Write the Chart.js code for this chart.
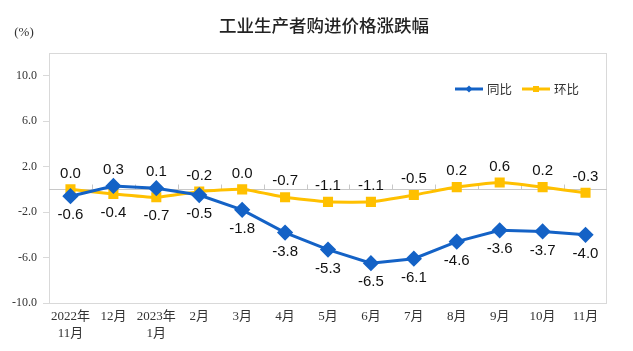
<!DOCTYPE html>
<html>
<head>
<meta charset="utf-8">
<script src="https://cdn.jsdelivr.net/npm/chart.js@4"></script>
<style>
  html, body { margin: 0; padding: 0; background: #fff; }
  #wrap { width: 633px; height: 351px; position: relative; }
</style>
</head>
<body>
<div id="wrap"><canvas id="ppiChart"></canvas></div>
<script>
// categories and series
const months = [['2022年', '11月'], '12月', ['2023年', '1月'], '2月', '3月', '4月', '5月', '6月', '7月', '8月', '9月', '10月', '11月'];
const yoyValues = [-0.6, 0.3, 0.1, -0.5, -1.8, -3.8, -5.3, -6.5, -6.1, -4.6, -3.6, -3.7, -4.0];
const momValues = [0.0, -0.4, -0.7, -0.2, 0.0, -0.7, -1.1, -1.1, -0.5, 0.2, 0.6, 0.2, -0.3];
const yTickValues = [-10, -6, -2, 2, 6, 10];
const seriesNames = ['同比', '环比'];

const BLUE = '#1462C6';
const GOLD = '#FFC000';
const GRID = '#d9d9d9';
const SERIF = '"Liberation Serif", "Times New Roman", "Noto Sans CJK SC", serif';
const SANS = '"Liberation Sans", Arial, "Noto Sans CJK SC", sans-serif';

// box, zero line, value labels, title, legend
const decorPlugin = {
    id: 'decor',
    beforeDatasetsDraw(chart) {
        const { ctx, chartArea: a, scales: { x, y } } = chart;
        ctx.save();
        ctx.strokeStyle = GRID;
        ctx.lineWidth = 1;
        ctx.strokeRect(a.left + 0.5, a.top + 0.5, a.right - a.left - 1, a.bottom - a.top);
        // zero line with small tick marks between categories
        const y0 = Math.round(y.getPixelForValue(0)) + 0.5;
        ctx.strokeStyle = '#c8c8c8';
        ctx.beginPath();
        ctx.moveTo(a.left, y0);
        ctx.lineTo(a.right, y0);
        const step = x.getPixelForValue(1) - x.getPixelForValue(0);
        for (let i = 1; i < months.length; i++) {
            const xb = Math.round(x.getPixelForValue(i) - step / 2) + 0.5;
            ctx.moveTo(xb, y0);
            ctx.lineTo(xb, y0 - 5);
        }
        ctx.stroke();
        ctx.restore();
    },
    afterDraw(chart) {
        const { ctx, scales: { x, y } } = chart;
        ctx.save();

        // title and unit
        ctx.fillStyle = '#222';
        ctx.textAlign = 'center';
        ctx.textBaseline = 'middle';
        ctx.font = '500 17.5px "Noto Sans CJK SC", sans-serif';
        ctx.fillText('工业生产者购进价格涨跌幅', 324, 25);
        ctx.font = '13px ' + SERIF;
        ctx.fillStyle = '#333';
        ctx.fillText('(%)', 24, 33);

        // value labels: the higher series above, the lower below
        ctx.font = '15px ' + SANS;
        ctx.fillStyle = '#111';
        for (let i = 0; i < months.length; i++) {
            const px = x.getPixelForValue(i);
            const blueUp = yoyValues[i] > momValues[i];
            const by = y.getPixelForValue(yoyValues[i]);
            const gy = y.getPixelForValue(momValues[i]);
            ctx.fillText(yoyValues[i].toFixed(1), px, blueUp ? by - 16 : by + 19);
            ctx.fillText(momValues[i].toFixed(1), px, blueUp ? gy + 19 : gy - 16);
        }

        // legend
        const items = [[seriesNames[0], BLUE, 'diamond', 455], [seriesNames[1], GOLD, 'square', 522]];
        ctx.font = '12.5px "Noto Sans CJK SC", sans-serif';
        ctx.textAlign = 'left';
        for (const [name, color, shape, lx] of items) {
            const ly = 89;
            ctx.strokeStyle = color;
            ctx.fillStyle = color;
            ctx.lineWidth = 3;
            ctx.beginPath();
            ctx.moveTo(lx, ly);
            ctx.lineTo(lx + 28, ly);
            ctx.stroke();
            ctx.beginPath();
            if (shape === 'diamond') {
                ctx.moveTo(lx + 14, ly - 3.5);
                ctx.lineTo(lx + 17.5, ly);
                ctx.lineTo(lx + 14, ly + 3.5);
                ctx.lineTo(lx + 10.5, ly);
                ctx.closePath();
                ctx.fill();
            } else {
                ctx.fillRect(lx + 11, ly - 3, 6, 6);
            }
            ctx.fillStyle = '#333';
            ctx.fillText(name, lx + 32, ly);
        }
        ctx.restore();
    }
};

const ctx = document.getElementById('ppiChart').getContext('2d');
new Chart(ctx, {
    type: 'line',
    data: {
        labels: months,
        datasets: [
            {
                label: seriesNames[0],
                data: yoyValues,
                borderColor: BLUE,
                backgroundColor: BLUE,
                borderWidth: 3,
                pointStyle: 'rectRot',
                pointRadius: 6,
                pointHoverRadius: 6,
                tension: 0
            },
            {
                label: seriesNames[1],
                data: momValues,
                borderColor: GOLD,
                backgroundColor: GOLD,
                borderWidth: 3,
                pointStyle: 'rect',
                pointRadius: 5,
                pointHoverRadius: 5,
                tension: 0.15
            }
        ]
    },
    options: {
        responsive: true,
        maintainAspectRatio: false,
        animation: false,
        layout: { padding: { top: 53, right: 26, left: 0, bottom: 0 } },
        plugins: {
            legend: { display: false },
            title: { display: false },
            tooltip: { enabled: false }
        },
        scales: {
            x: {
                offset: true,
                grid: { display: false, drawTicks: false },
                border: { display: false },
                ticks: {
                    color: '#333',
                    font: { family: SERIF, size: 13, lineHeight: 1.3 },
                    padding: 5,
                    maxRotation: 0,
                    autoSkip: false
                },
                afterFit(scale) { scale.height = 48; }
            },
            y: {
                min: -10,
                max: 12,
                afterBuildTicks(scale) {
                    scale.ticks = yTickValues.map(v => ({ value: v }));
                },
                grid: { drawOnChartArea: false, drawTicks: true, tickLength: 6, color: GRID },
                border: { display: true, color: GRID },
                ticks: {
                    color: '#333',
                    font: { family: SERIF, size: 12 },
                    padding: 6,
                    callback: v => v.toFixed(1)
                },
                afterFit(scale) { scale.width = 49; }
            }
        }
    },
    plugins: [decorPlugin]
});
</script>
</body>
</html>
